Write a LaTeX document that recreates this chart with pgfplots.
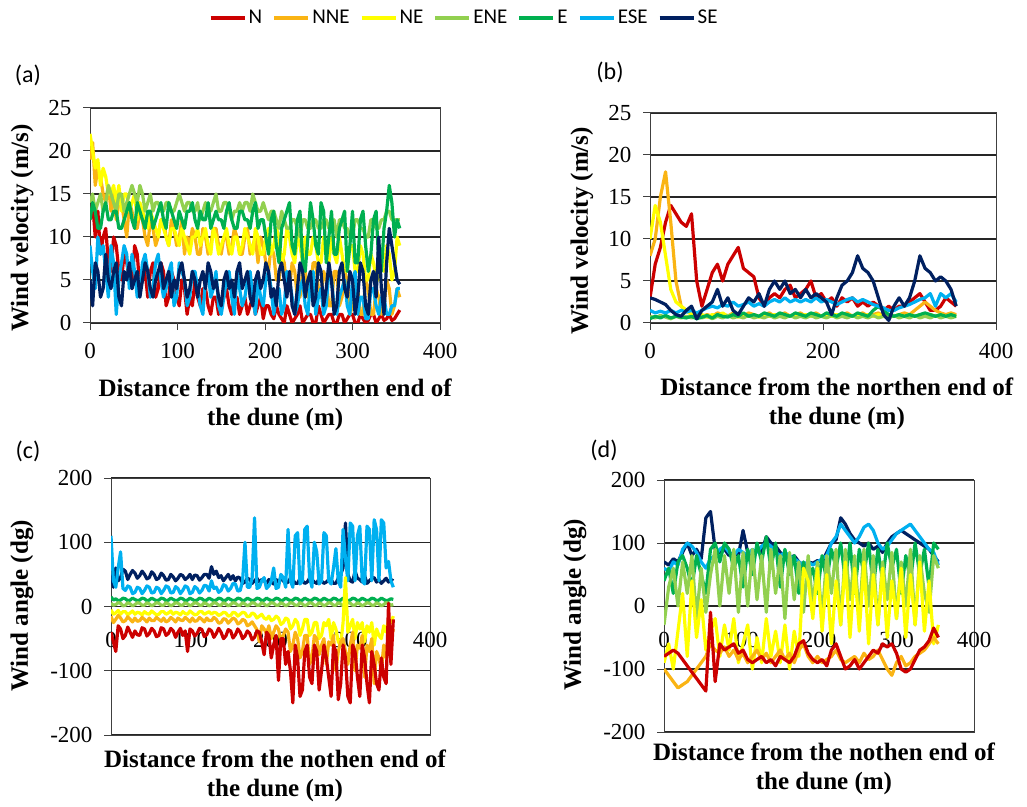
\documentclass[border=0pt]{standalone}
\usepackage{pgfplots}
\usepackage{pgfplotstable}
\pgfplotsset{compat=1.18}
\usepackage{fontspec}
\setmainfont{Liberation Serif}
\newfontfamily\calibri{Carlito}
\definecolor{cN}{RGB}{204,0,0}
\definecolor{cNNE}{RGB}{250,180,20}
\definecolor{cNE}{RGB}{255,255,0}
\definecolor{cENE}{RGB}{146,208,80}
\definecolor{cE}{RGB}{0,176,80}
\definecolor{cESE}{RGB}{0,176,240}
\definecolor{cSE}{RGB}{0,32,96}

\pgfplotstableread{
x N NNE NE ENE E ESE SE
0 12 19 22 14 12 9 5
3 14 21 20 15 14 6 2
6 10 16 18 13 13 4 7
9 13 18 19 14 11 10 6
12 8 17 16 15 11 8 3
15 10 15 18 13 13 9 4
18 11 14 17 14 14 6 8
21 7 16 15 16 12 3 5
24 6 13 15 15 12 9 4
27 10 15 16 14 13 7 6
30 9 12 14 13 13 1 7
33 6 14 16 15 11 5 3
36 5 14 13 15 11 7 2
39 8 12 15 13 12 9 6
42 7 10 15 14 13 8 5
45 5 14 13 15 14 4 7
48 4 13 14 16 12 8 4
51 9 11 15 15 11 6 5
54 8 11 12 14 14 3 6
57 4 13 14 16 13 4 3
60 5 12 13 15 12 7 5
63 6 10 12 13 11 8 7
66 3 9 11 14 13 6 6
69 6 12 13 15 13 3 4
72 7 11 12 13 11 4 3
75 3 9 11 14 12 7 5
78 4 10 10 14 13 8 6
81 7 12 12 13 14 5 7
84 6 12 11 13 12 3 4
87 2 10 10 14 11 4 5
90 3 9 9 14 14 6 6
93 6 12 11 13 13 7 3
96 5 11 11 13 12 2 5
99 3 9 10 14 11 3 4
102 2 10 9 15 13 7 6
105 5 12 11 14 12 6 7
108 4 8 10 13 11 5 5
111 1 10 9 14 13 2 3
114 3 9 8 14 13 3 4
117 2 11 10 13 14 6 6
120 5 10 10 13 12 6 5
123 3 8 11 14 11 4 3
126 2 8 9 12 13 2 5
129 4 11 10 13 12 1 6
132 4 10 11 14 12 5 4
135 2 8 9 13 14 6 7
138 1 9 8 13 11 3 6
141 3 11 11 14 12 4 4
144 3 11 10 15 13 6 5
147 1 9 8 13 12 2 3
150 2 8 9 13 12 1 2
153 3 10 10 14 11 3 5
156 4 10 11 14 13 5 6
159 2 8 9 13 14 6 4
162 1 9 8 12 12 3 5
165 3 11 10 13 11 1 3
168 3 10 10 13 11 6 6
171 1 8 8 14 13 4 7
174 2 8 9 13 13 2 4
177 3 10 11 14 12 3 5
180 1 11 10 14 12 5 6
183 2 8 9 13 11 6 3
186 3 9 8 15 13 3 2
189 1 10 11 14 14 1 5
192 2 7 10 13 11 5 6
195 3 10 8 13 12 3 4
198 0.5 9 8 14 12 2 5
201 2 7 10 13 10 5 7
204 2 6 11 12 8 6 6
207 1 9 8 13 12 4 3
210 0.5 8 9 13 13 1 4
213 2 5 11 12 9 3 2
216 1 5 10 11 7 4 6
219 0.5 8 7 13 11 1 7
222 0 7 8 12 12 2 5
225 2 4 11 11 13 6 3
228 1 4 10 11 14 5 6
231 0 7 8 12 9 3 2
234 0.5 6 7 12 8 1 1
237 1 3 10 11 12 2 4
240 2 3 9 10 13 4 7
243 0 6 7 12 7 5 6
246 0.5 6 10 12 6 2 3
249 1 3 8 11 10 1 5
252 1 4 8 11 14 5 6
255 0 7 10 12 12 6 2
258 0 7 9 12 9 1 3
261 2 4 7 11 8 3 7
264 1 3 7 11 14 4 6
267 0 6 10 12 13 1 2
270 0.5 5 9 12 7 2 4
273 1 2 7 11 10 6 7
276 1 2 10 11 13 5 5
279 0 6 8 12 8 2 1
282 0 6 7 10 8 1 2
285 1 2 10 12 11 3 6
288 1 3 8 12 12 4 7
291 0 6 6 11 13 5 4
294 0.5 5 6 11 6 2 3
297 1 1 9 10 9 1 6
300 1 2 9 10 13 5 5
303 0 5 6 12 7 6 1
306 0 4 6 12 7 1 3
309 1 1 9 11 12 3 7
312 0.5 1 8 11 13 3 6
315 0 5 5 10 9 0.5 2
318 0.3 4 5 10 6 0.5 1
321 1 1 8 12 8 4 5
324 1 1 7 12 12 4 6
327 0 4 5 11 13 2 3
330 0.5 3 5 11 7 1 10
333 1 1 7 12 6 3 4
336 0.3 2 6 12 11 3 1
339 0.5 5 9 13 13 1 7
342 1 4 8 13 16 1 11
345 0.3 1 5 12 14 2 9
348 0.5 2 6 12 10 2 7
351 1 4 10 12 12 4 5
354 1.5 3 9 12 11 4 4.5
}\tabA

\pgfplotstableread{
x N NNE NE ENE E ESE SE
0 3 8 10 0.8 0.5 1.5 3
6 7 10 14 0.6 0.8 1.2 2.8
12 9 15 12 0.9 0.6 1.4 2.5
18 12 18 8 0.7 0.9 1.2 2.2
24 14 12 4 0.5 0.6 1.5 1.5
30 13 5 2.5 0.8 0.8 1.2 1
36 12 2 2 0.6 0.7 1.5 0.8
42 11.5 1.5 1.5 0.8 0.6 1.3 1.5
48 13 1 1 0.6 0.8 1.5 2
54 5 1.2 0.8 0.8 0.5 1.2 0.5
60 2 0.8 1 0.6 0.7 1.5 1.5
66 4 1 0.7 0.8 0.9 1.8 2
72 6 0.8 1 0.5 0.6 2 2.5
78 7 1.2 0.8 0.8 1 1.8 4
84 5 1 1.2 0.6 0.8 2.2 2
90 7 0.8 0.8 0.9 0.7 2 3
96 8 1.2 1 0.6 1 2.5 1.5
102 9 1 0.7 0.8 0.8 2 1
108 6.5 0.8 1 0.6 1.2 2.2 2
114 6 1.2 0.8 0.9 0.8 2.5 3
120 5.5 1 1 0.6 1 2 2.5
126 3 0.8 0.7 0.8 0.8 2.3 3.5
132 2 1 1 0.6 1.2 2 2
138 3 1.2 0.8 0.9 1 2.5 4
144 3.5 0.8 1 0.6 0.8 2.8 5
150 3 1 0.8 0.8 1.2 2.5 4
156 4 1.2 1 0.6 1 3 5
162 4.5 0.8 0.8 0.9 0.8 2.5 3.5
168 3 1 1 0.6 1.2 2.8 4
174 3.5 1.2 0.8 0.8 1 2.5 3
180 4 0.8 1 0.6 0.8 2.8 4
186 5 1 0.8 0.9 1.2 2.5 3
192 3 1.2 1 0.6 1 3 3.5
198 3.5 0.8 0.8 0.8 0.8 2.5 3
204 2.5 1 1 0.6 1.2 2.8 2.5
210 3 1.2 0.8 0.9 1 2.5 1
216 2 0.8 1 0.6 0.8 2.2 3
222 3 1 0.8 0.8 1.2 2.5 4.5
228 2.5 1.2 1 0.6 1 2.8 5
234 3 0.8 0.8 0.9 0.8 3 6
240 2 1 1 0.6 1.2 2.5 8
246 2.5 1.2 0.8 0.8 1 2.8 6.5
252 2 0.8 1 0.6 0.8 2.5 6
258 2.5 1 0.8 0.9 1.5 2.2 5
264 2 1.2 1 0.6 2 2 3
270 1.5 0.8 0.8 0.8 1.5 1.8 1
276 2 1 1 0.6 1 1.5 0.3
282 1.5 0.8 0.8 0.9 0.8 1.5 2
288 2 1 1 0.6 1 1.8 3
294 2 1.2 0.8 0.8 0.8 2 2
300 2.5 1 1 0.6 1 2.2 3
306 3 1.5 0.8 0.9 0.8 2.5 5
312 3.5 2 1 0.6 1 2.8 8
318 2.5 2.5 0.8 0.8 1.2 3 6.5
324 1.5 2 1 0.6 1 3.5 6
330 1.5 1.5 0.8 0.9 0.8 2 5
336 2 1.2 1 0.6 1 3.5 5.5
342 3 1 0.8 0.8 0.8 3 5
348 2.5 1.2 1 0.6 1 3.5 4
354 2 1 0.8 0.8 0.8 2.5 2
}\tabB

\pgfplotstableread{
x N NNE NE ENE E ESE SE
0 -40 -15 -5 5 15 110 50
3 -55 -25 -12 2 10 40 30
6 -70 -20 -10 3 12 30 60
9 -30 -14 -6 6 9 60 40
12 -35 -18 -12 5 10 85 45
15 -50 -24 -8 1 13 28 58
18 -45 -22 -8 2 12 25 55
21 -32 -16 -13 6 9 32 42
24 -40 -20 -10 4 10 30 50
27 -48 -24 -7 1 13 20 56
30 -38 -18 -12 3 11 22 52
33 -44 -23 -9 6 9 30 44
36 -45 -22 -10 5 10 28 48
39 -33 -17 -13 2 13 20 55
42 -35 -20 -8 2 12 25 50
45 -46 -24 -11 6 9 32 43
48 -42 -18 -12 4 10 30 45
51 -34 -22 -7 1 13 21 54
54 -38 -22 -10 3 11 22 50
57 -47 -17 -13 6 9 30 42
60 -45 -20 -12 5 10 28 44
63 -33 -23 -8 2 13 20 52
66 -35 -18 -8 2 12 25 48
69 -45 -24 -12 6 9 32 41
72 -42 -22 -10 4 10 30 42
75 -34 -17 -7 1 13 21 50
78 -38 -20 -12 3 11 22 46
81 -48 -24 -9 6 9 31 40
84 -40 -18 -10 5 10 28 44
87 -34 -21 -13 2 13 20 50
90 -45 -22 -8 2 12 25 48
93 -38 -17 -11 6 9 32 42
96 -70 -20 -12 4 10 30 45
99 -35 -24 -7 1 13 20 50
102 -38 -18 -10 3 11 22 42
105 -46 -23 -13 6 9 31 49
108 -42 -22 -12 5 10 28 48
111 -34 -17 -8 2 13 21 41
114 -36 -20 -8 2 12 25 45
117 -47 -24 -12 6 9 33 50
120 -44 -18 -10 4 10 32 50
123 -35 -22 -8 1 13 24 44
126 -38 -22 -12 3 11 40 62
129 -48 -17 -9 6 9 28 50
132 -42 -20 -10 5 10 30 55
135 -34 -26 -14 2 13 22 45
138 -40 -25 -12 2 12 25 48
141 -50 -19 -9 6 9 34 40
144 -46 -20 -10 4 10 32 45
147 -36 -26 -15 1 13 24 50
150 -38 -22 -14 3 11 28 42
153 -49 -18 -9 6 9 36 48
156 -44 -20 -10 5 10 35 40
159 -35 -27 -15 2 13 24 46
162 -40 -25 -12 2 12 25 44
165 -50 -20 -9 6 9 40 36
168 -46 -22 -10 4 10 100 38
171 -38 -30 -16 1 13 30 44
174 -42 -28 -15 3 11 30 42
177 -52 -24 -10 6 9 45 36
180 -48 -30 -12 5 10 138 40
183 -38 -36 -18 2 13 28 44
186 -40 -55 -15 2 12 30 38
189 -55 -30 -12 6 9 40 42
192 -75 -35 -18 4 10 45 40
195 -40 -42 -20 1 13 28 36
198 -45 -30 -15 3 11 32 42
201 -80 -50 -22 6 9 40 38
204 -60 -40 -20 5 10 60 35
207 -45 -30 -15 2 13 28 42
210 -115 -35 -18 2 12 30 38
213 -50 -55 -28 6 9 50 44
216 -50 -45 -25 4 10 45 40
219 -90 -35 -18 1 13 30 36
222 -70 -40 -20 3 11 120 38
225 -100 -70 -35 6 9 40 44
228 -150 -60 -30 5 10 30 42
231 -60 -40 -20 2 13 110 36
234 -80 -50 -25 2 12 115 36
237 -140 -80 -45 6 9 35 44
240 -130 -70 -35 4 10 40 40
243 -70 -45 -20 1 13 120 36
246 -60 -45 -20 3 11 125 38
249 -110 -90 -45 6 9 45 44
252 -120 -80 -40 5 10 30 42
255 -60 -45 -25 2 13 100 38
258 -70 -50 -25 2 12 85 36
261 -130 -75 -50 6 9 35 44
264 -100 -60 -45 4 10 40 40
267 -60 -50 -25 1 13 115 36
270 -80 -90 -30 3 11 110 38
273 -110 -55 -20 6 9 40 42
276 -140 -60 -50 5 10 35 42
279 -60 -45 -25 2 13 60 36
282 -70 -100 -35 2 12 90 36
285 -145 -70 -55 6 9 40 44
288 -120 -55 -60 4 10 30 50
291 -60 -50 -25 1 13 120 60
294 -80 -70 45 3 11 75 130
297 -140 -90 -40 6 9 40 50
300 -150 -60 -30 5 10 130 40
303 -60 -40 -20 2 13 125 38
306 -70 -100 -50 2 12 40 55
309 -110 -60 -25 6 9 110 44
312 -140 -65 -35 4 10 125 42
315 -60 -45 -25 1 13 40 38
318 -80 -110 -55 3 11 35 48
321 -120 -60 -30 6 9 125 36
324 -150 -70 -40 5 10 120 40
327 -70 -50 -25 2 13 40 44
330 -90 -120 -60 2 12 135 45
333 -120 -70 -35 6 9 120 38
336 -130 -80 -45 4 10 40 42
339 -80 -100 -50 1 13 135 36
342 -110 -60 -30 3 11 130 40
345 -120 -80 -40 6 9 60 44
348 5 -40 -20 5 10 70 38
351 -90 -50 -25 2 12 40 42
354 -20 -35 -15 3 11 30 40
}\tabC

\pgfplotstableread{
x N NNE NE ENE E ESE SE
0 -80 -100 -90 -30 40 60 70
6 -75 -110 -60 30 60 55 65
12 -70 -120 -100 60 20 70 75
18 -75 -130 -40 0 70 65 70
24 -85 -125 20 70 80 90 85
30 -95 -120 -80 20 60 100 100
36 -105 -110 40 80 30 95 80
42 -115 -100 -50 -20 80 85 90
48 -125 -90 10 60 50 70 75
54 -135 -80 -70 -10 20 60 140
60 -10 -60 -40 50 90 75 150
66 -120 -70 -20 90 100 80 90
72 -60 -75 -80 0 70 90 85
78 -70 -65 -30 80 100 95 90
84 -65 -80 -70 20 90 85 80
90 -60 -70 -20 90 60 80 85
96 -75 -85 -90 -10 80 90 80
102 -70 -75 -60 85 30 85 120
108 -85 -90 -30 0 90 80 85
114 -90 -80 -100 90 50 90 80
120 -85 -70 -50 10 100 85 90
126 -80 -85 -90 80 70 95 85
132 -90 -75 -20 -10 110 100 110
138 -85 -90 -80 90 60 95 100
144 -95 -80 -40 20 100 85 95
150 -80 -70 -90 80 30 80 85
156 -85 -85 -30 -20 90 85 80
162 -90 -75 -100 85 50 80 75
168 -80 -90 -40 10 80 75 80
174 -60 -70 -80 70 20 70 70
180 -55 -60 60 -10 70 65 65
186 -75 -80 40 80 40 70 70
192 -85 -90 -20 0 60 65 68
198 -90 -80 60 70 20 70 72
204 -85 -90 -40 -20 80 75 70
210 -95 -85 50 80 40 80 85
216 -70 -80 -60 20 90 100 100
222 -60 -70 40 90 60 110 105
228 -80 -85 -30 -30 100 130 140
234 -100 -90 70 90 40 120 130
240 -95 -85 -50 10 100 110 115
246 -85 -80 60 80 20 100 105
252 -100 -90 -40 -20 90 110 100
258 -90 -75 70 90 50 125 95
264 -80 -85 -60 0 100 130 100
270 -70 -80 50 80 30 120 90
276 -75 -70 -30 -30 90 100 95
282 -60 -85 60 70 40 90 85
288 -65 -100 -50 10 100 95 100
294 -60 -110 40 85 60 105 110
300 -75 -90 -20 -20 90 115 115
306 -100 -80 60 70 20 120 120
312 -105 -95 -50 0 80 125 115
318 -100 -90 50 90 40 130 110
324 -85 -80 -30 -30 100 120 105
330 -70 -75 70 80 50 110 100
336 -65 -70 -40 20 90 100 95
342 -55 -60 40 -10 30 90 90
348 -35 -50 -60 80 100 85 80
354 -50 -60 -30 60 90 65 70
}\tabD

\pgfplotsset{
  panel/.style={
    scale only axis, anchor=south west,
    xmin=0, xmax=400,
    axis line style={black!75, line width=1pt},
    ymajorgrids, grid style={black!85, line width=1.1pt},
    tick align=outside, xtick pos=bottom, ytick pos=left,
    major tick length=7pt, tick style={black!75, line width=1pt},
    ticklabel style={font=\fontsize{23}{23}\selectfont},
    yticklabel style={xshift=-8pt},
    /pgf/number format/assume math mode=true,
    label style={font=\bfseries\fontsize{25}{29}\selectfont, align=center},
    every axis plot/.append style={line width=3.2pt, line join=round, mark=none},
  },
}

\begin{document}
\begin{tikzpicture}
\useasboundingbox (0pt,0pt) rectangle (1027pt,806pt);

% (a)
\begin{axis}[panel, at={(90pt,483pt)}, width=350pt, height=215pt,
  ymin=0, ymax=25, ytick={0,5,...,25}, xtick={0,100,...,400},
  xticklabel style={yshift=-10pt},
  ylabel={Wind velocity (m/s)},
  ylabel style={at={(axis description cs:-0.194,0.442)}, anchor=center},
  xlabel={Distance from the northen end of\\the dune (m)},
  xlabel style={at={(axis description cs:0.529,-0.381)}, anchor=center},
  legend columns=7,
  legend style={at={(axis description cs:1.069,1.419)}, anchor=center, draw=none, fill=none,
    font=\calibri\fontsize{21}{21}\selectfont,
    /tikz/every even column/.append style={column sep=8pt}},
  legend image code/.code={\draw[#1, line width=4pt] (0pt,0pt) -- (34pt,0pt);},
]
\addplot[cN] table[y=N]{\tabA}; \addlegendentry{N}
\addplot[cNNE] table[y=NNE]{\tabA}; \addlegendentry{NNE}
\addplot[cNE] table[y=NE]{\tabA}; \addlegendentry{NE}
\addplot[cENE] table[y=ENE]{\tabA}; \addlegendentry{ENE}
\addplot[cE] table[y=E]{\tabA}; \addlegendentry{E}
\addplot[cESE] table[y=ESE]{\tabA}; \addlegendentry{ESE}
\addplot[cSE] table[y=SE]{\tabA}; \addlegendentry{SE}
\end{axis}

% (b)
\begin{axis}[panel, at={(650pt,483pt)}, width=346pt, height=210pt,
  ymin=0, ymax=25, ytick={0,5,...,25}, xtick={0,200,400},
  xticklabel style={yshift=-10pt},
  ylabel={Wind velocity (m/s)},
  ylabel style={at={(axis description cs:-0.197,0.438)}, anchor=center},
  xlabel={Distance from the northen end of\\the dune (m)},
  xlabel style={at={(axis description cs:0.540,-0.386)}, anchor=center},
]
\addplot[cN] table[y=N]{\tabB};
\addplot[cNNE] table[y=NNE]{\tabB};
\addplot[cNE] table[y=NE]{\tabB};
\addplot[cENE] table[y=ENE]{\tabB};
\addplot[cE] table[y=E]{\tabB};
\addplot[cESE] table[y=ESE]{\tabB};
\addplot[cSE] table[y=SE]{\tabB};
\end{axis}

% (c)
\begin{axis}[panel, at={(111pt,71pt)}, width=319pt, height=257pt,
  ymin=-200, ymax=200, ytick={-200,-100,...,200}, xtick={0,100,...,400},
  xtick style={draw=none},
  xticklabel style={yshift=113pt},
  ylabel={Wind angle (dg)},
  ylabel style={at={(axis description cs:-0.279,0.502)}, anchor=center},
  xlabel={Distance from the nothen end of\\the dune (m)},
  xlabel style={at={(axis description cs:0.514,-0.160)}, anchor=center},
]
\addplot[cSE] table[y=SE]{\tabC};
\addplot[cESE] table[y=ESE]{\tabC};
\addplot[cE] table[y=E]{\tabC};
\addplot[cENE] table[y=ENE]{\tabC};
\addplot[cNE] table[y=NE]{\tabC};
\addplot[cNNE] table[y=NNE]{\tabC};
\addplot[cN] table[y=N]{\tabC};
\end{axis}

% (d)
\begin{axis}[panel, at={(664pt,74pt)}, width=310pt, height=252pt,
  ymin=-200, ymax=200, ytick={-200,-100,...,200}, xtick={0,100,...,400},
  xtick style={draw=none},
  xticklabel style={yshift=110pt},
  ylabel={Wind angle (dg)},
  ylabel style={at={(axis description cs:-0.287,0.504)}, anchor=center},
  xlabel={Distance from the nothen end of\\the dune (m)},
  xlabel style={at={(axis description cs:0.516,-0.147)}, anchor=center},
]
\addplot[cSE] table[y=SE]{\tabD};
\addplot[cESE] table[y=ESE]{\tabD};
\addplot[cE] table[y=E]{\tabD};
\addplot[cENE] table[y=ENE]{\tabD};
\addplot[cNE] table[y=NE]{\tabD};
\addplot[cNNE] table[y=NNE]{\tabD};
\addplot[cN] table[y=N]{\tabD};
\end{axis}

\node[font=\calibri\fontsize{24}{24}\selectfont] at (28pt,731pt) {(a)};
\node[font=\calibri\fontsize{24}{24}\selectfont] at (610pt,734pt) {(b)};
\node[font=\calibri\fontsize{24}{24}\selectfont] at (28pt,355pt) {(c)};
\node[font=\calibri\fontsize{24}{24}\selectfont] at (604pt,356pt) {(d)};
\end{tikzpicture}
\end{document}
